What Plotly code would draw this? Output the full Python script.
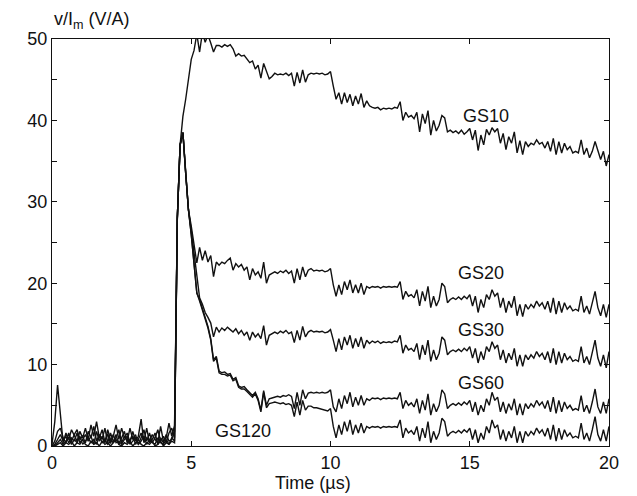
import numpy as np
import plotly.graph_objects as go

# sampling grid: 0.0 .. 20.0 us, 0.1 us step
TIME_US = np.round(np.arange(201) * 0.1, 1)

GS10 = [
    0.2, 3.0, 7.5, 3.5, 0.4, 1.6, 0.8, 2.0, 1.2, 0.6,
    1.8, 1.0, 2.2, 0.8, 2.6, 1.2, 3.0, 1.0, 2.0, 0.5,
    1.5, 0.3, 1.2, 2.6, 0.8, 2.2, 1.0, 1.6, 0.4, 1.8,
    0.6, 1.2, 3.3, 0.4, 1.0, 0.6, 1.4, 0.8, 0.4, 2.4,
    0.6, 1.0, 2.8, 1.2, 2.5, 28.0, 37.0, 40.5, 42.6, 45.0,
    47.5, 48.6, 50.6, 48.4, 50.8, 49.6, 50.5, 49.5, 48.4, 49.2,
    49.2, 49.0, 49.3, 49.1, 49.3, 48.8, 47.9, 48.2, 47.9, 48.0,
    47.6, 47.1, 47.3, 46.3, 46.8, 45.2, 47.0, 45.9, 45.1, 45.4,
    45.8, 45.6, 45.7, 45.6, 45.8, 45.5, 45.8, 44.2, 45.9, 44.6,
    46.2, 44.7, 45.6, 45.8, 45.7, 45.8, 45.7, 45.8, 45.6, 45.7,
    46.0, 44.2, 42.6, 43.4, 42.0, 43.4, 42.2, 43.2, 41.8, 43.0,
    42.0, 43.3, 41.6, 42.4, 41.8, 41.6, 41.5, 41.6, 41.3, 41.5,
    41.4, 41.5, 41.4, 41.6, 41.5, 42.3, 40.0, 41.0, 40.4, 40.6,
    40.2, 41.0, 38.6, 40.8, 39.6, 41.2, 38.2, 40.0, 38.7, 39.4,
    40.6, 40.3, 38.6, 38.8, 38.5, 38.7, 38.4, 38.8, 38.3, 38.6,
    39.0, 37.6, 38.8, 36.3, 38.2, 37.0, 38.9, 38.2, 39.1, 38.6,
    39.0, 37.2, 38.4, 36.4, 38.0, 37.2, 38.6, 36.0, 37.5, 35.8,
    37.4, 36.8, 37.2, 37.0, 37.6, 37.1, 37.3, 36.6, 37.4, 36.2,
    37.8, 35.8, 37.4, 36.0, 37.2, 36.4, 36.8, 36.0, 36.2, 36.0,
    37.6, 35.8, 36.6, 35.4, 36.2, 37.4, 36.4, 35.2, 36.2, 34.4,
    35.8,
]

GS20 = [
    0.0, 0.6, 1.8, 2.2, 1.0, 0.4, 1.6, 0.6, 1.4, 2.0,
    0.8, 1.2, 0.4, 1.8, 1.0, 2.4, 0.6, 1.4, 0.8, 2.2,
    0.4, 1.6, 0.6, 1.0, 2.0, 0.4, 1.2, 0.6, 2.2, 0.8,
    1.4, 0.2, 1.0, 2.0, 0.6, 1.6, 0.4, 1.0, 2.0, 0.6,
    1.2, 0.4, 1.6, 2.2, 1.0, 28.0, 37.0, 38.5, 33.5, 29.0,
    27.0, 24.5, 22.5, 24.4, 22.8, 24.0, 22.6, 23.4, 20.8, 22.6,
    22.2, 22.6, 22.4, 22.8, 23.1, 21.6, 22.4, 22.0, 22.3, 21.6,
    22.0, 20.4, 21.8, 21.0, 21.4, 20.6, 22.6, 20.0, 21.0, 21.2,
    21.4, 21.2, 21.5, 21.3, 21.6, 21.2, 21.5, 20.0, 21.8, 20.4,
    22.0, 20.8, 21.6, 21.8, 21.5, 21.6, 21.5, 21.6, 21.4, 21.5,
    21.8, 19.8, 18.4, 19.8, 18.6, 20.2, 19.2, 20.4, 18.8, 19.8,
    18.8, 20.0, 18.6, 19.6, 19.4, 19.6, 19.5, 19.6, 19.4, 19.6,
    19.5, 19.6, 19.5, 19.6, 19.5, 20.2, 18.0, 19.0, 18.4, 18.6,
    18.2, 19.2, 17.2, 19.0, 17.8, 19.6, 17.0, 18.4, 17.2, 18.0,
    20.0, 19.6, 17.6, 18.0, 18.2, 18.0, 18.3, 18.0, 18.4, 18.1,
    18.6, 17.2, 18.4, 16.4, 18.0, 17.0, 18.6, 18.0, 19.2, 18.4,
    18.8, 17.0, 18.2, 16.4, 17.8, 17.0, 18.4, 16.0, 17.4, 15.9,
    17.4, 16.8, 17.4, 17.0, 17.8, 17.2, 17.6, 16.8, 17.8, 16.4,
    18.2, 16.2, 17.8, 16.4, 17.6, 16.8, 17.2, 16.6, 16.8, 16.6,
    18.4, 16.4, 17.2, 16.2, 17.6, 19.0, 17.0, 16.0, 17.4, 15.8,
    17.4,
]

GS30 = [
    0.0, 0.2, 0.8, 1.4, 0.6, 1.2, 0.4, 1.0, 0.6, 1.6,
    0.4, 0.8, 1.4, 0.6, 1.2, 0.2, 1.8, 0.6, 1.2, 0.4,
    2.0, 0.8, 0.4, 1.4, 0.2, 1.0, 1.8, 0.4, 0.8, 1.2,
    0.2, 0.8, 1.6, 0.6, 2.2, 0.4, 0.8, 1.6, 0.2, 1.0,
    0.4, 1.4, 0.6, 0.8, 1.8, 28.0, 37.0, 38.5, 33.5, 29.0,
    26.5, 23.5, 20.5, 18.2, 17.4, 16.4, 15.8, 15.1, 13.4, 14.6,
    14.0, 14.5, 14.2, 14.6, 14.3, 14.0, 14.4, 13.8, 14.2, 13.6,
    14.0, 13.0, 14.0, 13.4, 13.8, 13.2, 14.8, 12.4, 13.6, 13.8,
    14.0, 13.8, 14.1, 13.9, 14.2, 13.8, 14.0, 12.7, 14.2, 13.0,
    14.7, 13.4, 14.0, 14.2, 14.0, 14.1, 14.0, 14.1, 13.9, 14.0,
    14.3, 13.0, 11.6, 13.2, 11.8, 13.4, 12.4, 13.6, 12.0, 13.2,
    12.2, 13.4, 12.0, 13.0, 12.6, 12.9, 12.7, 12.9, 12.6, 12.8,
    12.7, 12.8, 12.7, 12.9, 12.8, 13.6, 11.4, 12.4, 11.8, 12.0,
    11.6, 12.6, 10.6, 12.4, 11.2, 13.0, 10.4, 11.8, 10.6, 11.4,
    13.4, 13.0, 11.2, 11.6, 11.8, 11.6, 11.9, 11.6, 12.0, 11.7,
    12.2, 10.8, 12.0, 10.2, 11.6, 10.6, 12.2, 11.6, 12.8, 12.0,
    12.4, 10.6, 11.8, 10.2, 11.4, 10.6, 12.0, 9.8, 11.2, 9.8,
    11.2, 10.6, 11.2, 10.8, 11.6, 11.0, 11.4, 10.6, 11.6, 10.2,
    12.0, 10.0, 11.6, 10.2, 11.4, 10.6, 11.0, 10.4, 10.6, 10.4,
    12.2, 10.2, 11.0, 10.0, 11.4, 13.0, 10.8, 9.8, 11.2, 9.6,
    11.6,
]

GS60 = [
    0.0, 0.0, 0.4, 0.8, 0.2, 0.6, 1.0, 0.2, 0.8, 0.4,
    1.2, 0.2, 0.6, 1.0, 0.4, 0.8, 0.2, 1.2, 0.4, 0.8,
    0.2, 0.6, 1.4, 0.4, 0.6, 0.2, 0.8, 1.2, 0.2, 0.6,
    1.0, 0.2, 0.6, 1.2, 0.2, 0.8, 0.4, 0.2, 1.0, 0.4,
    0.2, 0.8, 0.2, 1.0, 0.6, 28.0, 37.0, 38.5, 33.5, 29.0,
    26.0, 22.0, 18.8, 18.0, 17.0, 15.8, 14.7, 13.2, 10.6, 11.0,
    9.2, 9.0, 9.1, 8.8, 8.9, 8.2, 8.4, 7.4, 7.2, 7.3,
    6.9, 6.6, 6.2, 6.6, 5.8, 4.4, 6.8, 5.0, 5.8, 5.9,
    6.0, 6.1, 6.0, 6.2, 6.1, 6.3, 6.1, 4.6, 6.6, 5.0,
    6.9, 5.8, 6.5, 6.6, 6.5, 6.6, 6.5, 6.6, 6.5, 6.6,
    6.9, 4.8, 4.2, 5.8, 4.6, 6.2, 5.2, 6.6, 4.8, 6.0,
    5.0, 6.2, 5.0, 5.8, 5.6, 5.9, 5.8, 5.9, 5.7, 5.9,
    5.8, 5.9, 5.8, 5.9, 5.8, 6.6, 4.6, 5.6, 5.0, 5.3,
    4.8, 5.8, 4.0, 5.6, 4.4, 6.4, 3.8, 5.2, 4.2, 5.0,
    6.9, 6.4, 4.6, 5.0, 5.2, 5.0, 5.3, 5.0, 5.4, 5.1,
    5.6, 4.2, 5.4, 3.8, 5.0, 4.2, 5.8, 5.0, 6.6, 5.6,
    6.0, 4.2, 5.4, 4.0, 5.2, 4.4, 5.8, 3.8, 5.2, 3.8,
    5.2, 4.6, 5.2, 4.8, 5.6, 5.0, 5.4, 4.6, 5.6, 4.2,
    6.0, 4.0, 5.6, 4.2, 5.4, 4.6, 5.0, 4.4, 4.6, 4.4,
    6.2, 4.2, 5.0, 4.0, 5.4, 7.0, 4.8, 4.0, 5.4, 4.0,
    5.8,
]

GS120 = [
    0.0, 0.0, 0.2, 0.4, 0.0, 0.4, 0.2, 0.6, 0.0, 0.4,
    0.2, 0.8, 0.2, 0.0, 0.6, 0.2, 0.4, 0.0, 0.6, 0.2,
    0.4, 0.0, 0.4, 0.8, 0.2, 0.0, 0.4, 0.2, 0.6, 0.0,
    0.4, 0.8, 0.2, 0.0, 0.4, 0.2, 0.6, 0.0, 0.2, 0.6,
    0.0, 0.4, 0.2, 0.6, 0.4, 28.0, 37.0, 38.5, 33.5, 29.0,
    26.0, 22.0, 18.8, 17.8, 16.8, 15.6, 14.5, 13.0, 10.4, 10.8,
    9.0, 8.8, 8.8, 8.6, 8.7, 8.0, 8.2, 7.2, 7.0, 7.0,
    6.7, 6.4, 6.0, 6.4, 5.6, 4.2, 6.6, 4.7, 5.2, 5.3,
    5.4, 5.3, 5.2, 5.3, 5.1, 5.2, 5.0, 3.6, 5.4, 3.8,
    5.6, 4.4, 4.9, 4.9, 4.7, 4.7, 4.6, 4.5, 4.4, 4.3,
    4.6, 2.4, 1.0, 2.6, 1.4, 3.0, 1.8, 3.2, 1.4, 2.6,
    1.6, 2.8, 1.6, 2.4, 2.2, 2.4, 2.3, 2.4, 2.2, 2.4,
    2.3, 2.4, 2.3, 2.4, 2.3, 3.2, 1.0, 2.2, 1.6, 1.9,
    1.4, 2.4, 0.6, 2.2, 1.0, 3.0, 0.4, 1.8, 0.8, 1.6,
    3.4, 3.0, 1.2, 1.6, 1.8, 1.6, 1.9, 1.6, 2.0, 1.7,
    2.2, 0.8, 2.0, 0.4, 1.6, 0.8, 2.4, 1.6, 3.2, 2.2,
    2.6, 0.8, 2.0, 0.6, 1.8, 1.0, 2.4, 0.4, 1.8, 0.4,
    1.8, 1.2, 1.8, 1.4, 2.2, 1.6, 2.0, 1.2, 2.2, 0.8,
    2.6, 0.6, 2.2, 0.8, 2.0, 1.2, 1.6, 1.0, 1.2, 1.0,
    2.8, 0.8, 1.6, 0.6, 2.0, 3.6, 1.4, 0.6, 2.0, 0.6,
    2.4,
]

SERIES = [("GS10", GS10), ("GS20", GS20), ("GS30", GS30), ("GS60", GS60), ("GS120", GS120)]

# label anchor points (time, value)
LABELS = [("GS10", 15.6, 40.5), ("GS20", 15.4, 21.2), ("GS30", 15.4, 14.3),
          ("GS60", 15.4, 7.8), ("GS120", 6.85, 1.8)]

X_TICKS = [0, 5, 10, 15, 20]
Y_TICKS = [0, 10, 20, 30, 40, 50]
Y_MINOR_STEP = 5

FONT = "Liberation Sans, Arial, Helvetica, sans-serif"

fig = go.Figure()
for name, vals in SERIES:
    fig.add_trace(go.Scatter(x=TIME_US, y=vals, mode="lines", name=name,
                             line=dict(color="#111111", width=1.4),
                             showlegend=False, hoverinfo="skip"))

for text, tx, ty in LABELS:
    fig.add_annotation(x=tx, y=ty, xref="x", yref="y", text=text, showarrow=False,
                       font=dict(size=18, color="#111111", family=FONT),
                       xanchor="center", yanchor="middle")

fig.add_annotation(x=0.0, y=1.045, xref="paper", yref="paper",
                   text="v/I<sub>m</sub> (V/A)", showarrow=False,
                   font=dict(size=18, color="#111111", family=FONT),
                   xanchor="left", yanchor="middle")
fig.add_annotation(x=0.469, y=-0.09, xref="paper", yref="paper",
                   text="Time (\u00b5s)", showarrow=False,
                   font=dict(size=18, color="#111111", family=FONT),
                   xanchor="center", yanchor="middle")

axis_common = dict(showline=True, linecolor="#111111", linewidth=1.3, mirror="ticks",
                   ticks="inside", ticklen=5, tickwidth=1.2, tickcolor="#111111",
                   showgrid=False, zeroline=False, automargin=False,
                   tickfont=dict(size=18, color="#111111", family=FONT))

fig.update_xaxes(range=[0, 20], tickvals=X_TICKS, ticktext=[str(v) for v in X_TICKS],
                 **axis_common)
fig.update_yaxes(range=[0, 50], tickvals=Y_TICKS, ticktext=[str(v) for v in Y_TICKS],
                 minor=dict(dtick=Y_MINOR_STEP, ticks="inside", ticklen=5,
                            tickwidth=1.2, tickcolor="#111111", showgrid=False),
                 **axis_common)

fig.update_layout(width=637, height=496,
                  margin=dict(l=52, r=28, t=39, b=50, pad=0),
                  paper_bgcolor="white", plot_bgcolor="white",
                  font=dict(family=FONT, color="#111111"))

fig.write_html("out.html", config={"displayModeBar": False},
               post_script="document.body.style.margin='0';"
                           "document.body.style.overflow='hidden';")
